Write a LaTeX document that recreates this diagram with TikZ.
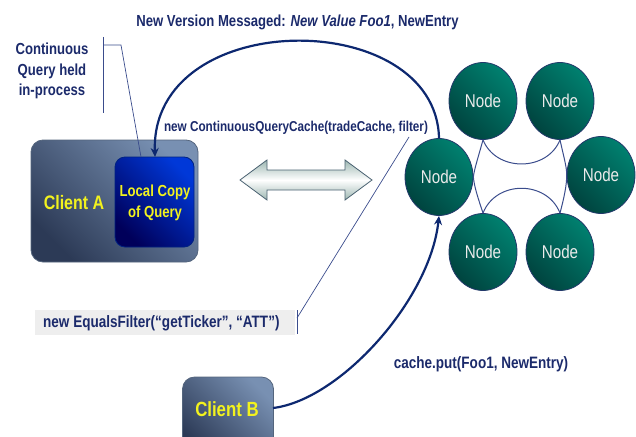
\documentclass[tikz,border=0pt]{standalone}
\usepackage{fontspec}
\setmainfont{Liberation Sans}
\newfontfamily\nf[FakeStretch=0.82]{Liberation Sans}
\usetikzlibrary{shapes.geometric,arrows.meta}
\definecolor{navy}{HTML}{1B2A6B}
\definecolor{arrnavy}{HTML}{0D2870}
\definecolor{yel}{HTML}{F2F21E}
\definecolor{boxlight}{HTML}{7890B2}
\definecolor{boxdark}{HTML}{2C3A56}
\definecolor{lclight}{HTML}{0038D8}
\definecolor{lcdark}{HTML}{00005A}
\definecolor{tlight}{HTML}{00806F}
\definecolor{tdark}{HTML}{00443F}
\definecolor{nodeline}{HTML}{22386A}
\definecolor{linkc}{HTML}{3A4C8C}
\definecolor{arrfill}{HTML}{9DB7B2}
\definecolor{arredge}{HTML}{4B6272}
\definecolor{filtbg}{HTML}{EEEEEE}
\begin{document}
\begin{tikzpicture}[x=1pt,y=-1pt,
  lbl/.style={text=navy,font=\nf\bfseries\fontsize{16}{20.5}\selectfont,inner sep=0pt,align=center},
  clientbox/.style={draw=boxlight!70!black,line width=0.8pt,rounded corners=12pt,shading=axis,top color=boxlight,bottom color=boxdark,shading angle=-45},
  cnode/.style={ellipse,draw=nodeline,line width=0.8pt,minimum width=68pt,minimum height=77pt,shading=axis,top color=tlight,bottom color=tdark,shading angle=-45,text=white!92!black,font=\nf\fontsize{18.5}{20}\selectfont},
  link/.style={draw=linkc,line width=1pt},
  callout/.style={draw=linkc,line width=0.7pt},
  mainarrow/.style={draw=arrnavy,line width=2.2pt,-{Stealth[length=9pt,width=8pt]}}
]
\useasboundingbox (0,0) rectangle (636,436);
\clip (0,0) rectangle (636,436);
% client A
\node[clientbox,minimum width=167pt,minimum height=122pt] (ca) at (114.5,201) {};
\node[draw=lclight!60!black,line width=0.8pt,rounded corners=10pt,shading=axis,top color=lclight,bottom color=lcdark,shading angle=-45,minimum width=79pt,minimum height=90pt] (lc) at (154.5,202) {};
\node[text=yel,font=\nf\bfseries\fontsize{19.5}{20}\selectfont,inner sep=0pt] (catext) at (74,203) {Client A};
\node[text=yel,font=\nf\bfseries\fontsize{16}{21}\selectfont,inner sep=0pt,align=center] (lctext) at (155,203) {Local Copy\\of Query};
% client B
\node[clientbox,minimum width=91pt,minimum height=80pt] (cb) at (228,417) {};
\node[text=yel,font=\nf\bfseries\fontsize{20.5}{22}\selectfont,inner sep=0pt] (cbtext) at (227,409) {Client B};
\coordinate (cbr) at (273,408);
% nodes
\node[cnode] (nl) at (439,177) {Node};
\node[cnode] (n1) at (483,101) {Node};
\node[cnode] (n2) at (560,101) {Node};
\node[cnode] (nr) at (601,175) {Node};
\node[cnode] (n4) at (483,252) {Node};
\node[cnode] (n5) at (560,252) {Node};
% links
\draw[link] (n1.south) .. controls (496,172) and (547,172) .. (n2.south);
\draw[link] (n4.north) .. controls (496,180) and (547,180) .. (n5.north);
\draw[link] (n1.south) .. controls (478,158) and (474,170) .. (nl.east);
\draw[link] (nl.east) .. controls (474,186) and (478,198) .. (n4.north);
\draw[link] (n2.south) .. controls (564,158) and (567,168) .. (nr.west);
\draw[link] (nr.west) .. controls (567,184) and (564,198) .. (n5.north);
% double arrow
\draw[draw=arredge,line width=0.8pt,shading=axis,top color=arrfill,bottom color=arrfill,middle color=white]
  (240,180) -- (267,160) -- (267,170) -- (345,170) -- (345,160) -- (372,180)
  -- (345,200) -- (345,190) -- (267,190) -- (267,200) -- cycle;
% labels
\node[lbl] (title) at (297.5,22) {New Version Messaged: \itshape New Value Foo1\upshape, NewEntry};
\node[lbl] (cq) at (52,71) {Continuous\\Query held\\in-process};
\node[lbl,font=\nf\bfseries\fontsize{14.3}{18}\selectfont] (cqc) at (296,128) {new ContinuousQueryCache(tradeCache, filter)};
\node[fill=filtbg,minimum width=260pt,minimum height=25pt,inner sep=0pt] (fbg) at (165,322.5) {};
\node[lbl,anchor=west,font=\nf\bfseries\fontsize{16.5}{20}\selectfont] (eqf) at (43,323) {new EqualsFilter(“getTicker”, “ATT”)};
\node[lbl,font=\nf\bfseries\fontsize{16.5}{20}\selectfont] (put) at (481,364) {cache.put(Foo1, NewEntry)};
% callouts
\coordinate (b1) at (103,37);
\coordinate (b2) at (103,113);
\coordinate (b3) at (103,45);
\coordinate (b4) at (121,45);
\coordinate (lctop) at (141,157);
\draw[callout] (b1) -- (b2);
\draw[callout] (b3) -- (b4) -- (lctop);
\coordinate (t1) at (297,310);
\coordinate (t2) at (297,334);
\coordinate (t3) at (297,318);
\coordinate (fl) at (409,137);
\draw[callout] (t1) -- (t2);
\draw[callout] (t3) -- (fl);
% main arrows
\coordinate (lcarr) at (155,157);
\draw[mainarrow] (nl.north) .. controls (436,6) and (150,6) .. (lcarr);
\draw[mainarrow] (cbr) .. controls (340,400) and (430,300) .. (nl.south);
\end{tikzpicture}
\end{document}
